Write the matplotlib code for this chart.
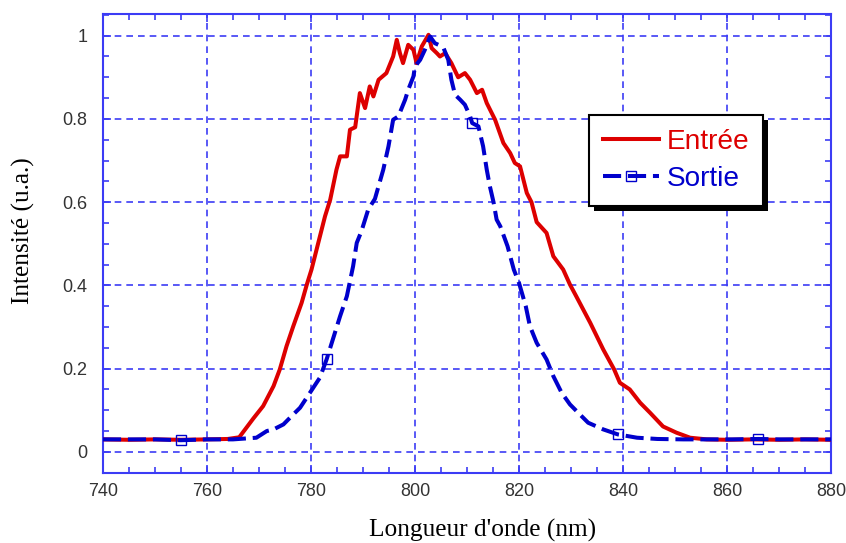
import matplotlib
matplotlib.use("Agg")
import matplotlib.pyplot as plt
from matplotlib.patches import Rectangle
from matplotlib.ticker import MultipleLocator

# Entrée spectrum (red)
entree_nm = [740, 745, 750, 755, 760, 764, 766.2, 768.9, 770.8, 772.8, 774.0, 775.3,
             776.6, 778.2, 779.2, 780.1, 781.4, 782.7, 783.7, 784.9, 785.6, 786.9,
             787.5, 788.5, 789.4, 790.4, 791.3, 792.0, 793.0, 794.5, 795.8, 796.5,
             797.1, 797.7, 798.7, 799.7, 800.3, 801.3, 802.6, 803.2, 804.2, 804.8,
             805.8, 807.0, 808.3, 809.6, 810.6, 811.9, 812.9, 813.8, 815.4, 817.0,
             818.3, 819.2, 820.2, 821.5, 822.4, 823.4, 825.3, 826.6, 828.5, 829.8,
             831.0, 833.7, 836.2, 838.3, 839.4, 841.3, 843.3, 845.2, 847.7, 850.3,
             852.9, 856.1, 860, 865, 870, 875, 880]
entree_val = [0.030, 0.029, 0.030, 0.029, 0.030, 0.031, 0.035, 0.080, 0.110, 0.158,
              0.198, 0.254, 0.302, 0.358, 0.402, 0.438, 0.502, 0.566, 0.606, 0.678,
              0.710, 0.710, 0.774, 0.780, 0.862, 0.826, 0.878, 0.854, 0.894, 0.910,
              0.950, 0.990, 0.958, 0.934, 0.978, 0.966, 0.934, 0.974, 1.002, 0.970,
              0.958, 0.950, 0.958, 0.934, 0.900, 0.910, 0.894, 0.862, 0.870, 0.838,
              0.798, 0.742, 0.718, 0.694, 0.686, 0.622, 0.600, 0.552, 0.526, 0.470,
              0.438, 0.402, 0.374, 0.310, 0.246, 0.198, 0.166, 0.150, 0.118, 0.094,
              0.061, 0.046, 0.034, 0.030, 0.029, 0.030, 0.029, 0.030, 0.029]

# Sortie spectrum (blue)
sortie_nm = [740, 745, 750, 755, 760, 765, 769.5, 771.5, 772.8, 774.7, 776.6, 777.9,
             779.8, 781.7, 783.0, 784.0, 785.6, 786.9, 788.1, 788.8, 789.7, 791.0,
             792.3, 793.9, 794.9, 795.8, 796.8, 798.1, 798.7, 799.7, 800.0, 801.0,
             801.9, 802.9, 803.8, 804.5, 805.5, 806.4, 807.0, 807.7, 808.7, 809.6,
             810.6, 811.0, 812.2, 813.1, 813.8, 814.4, 815.1, 815.7, 816.4, 817.8,
             819.0, 820.0, 821.3, 822.1, 823.4, 825.3, 826.6, 828.2, 829.8, 831.7,
             833.3, 836.2, 839.0, 842.7, 846.6, 851.6, 856, 861, 866, 870, 875, 880]
sortie_val = [0.030, 0.030, 0.030, 0.028, 0.030, 0.030, 0.034, 0.050, 0.054, 0.066,
              0.090, 0.106, 0.142, 0.178, 0.222, 0.262, 0.326, 0.374, 0.446, 0.502,
              0.530, 0.582, 0.608, 0.678, 0.734, 0.798, 0.806, 0.846, 0.870, 0.902,
              0.926, 0.942, 0.966, 0.998, 0.982, 0.978, 0.970, 0.942, 0.894, 0.858,
              0.846, 0.834, 0.806, 0.790, 0.782, 0.734, 0.678, 0.638, 0.600, 0.558,
              0.542, 0.494, 0.438, 0.406, 0.350, 0.302, 0.262, 0.222, 0.182, 0.142,
              0.114, 0.090, 0.070, 0.054, 0.042, 0.034, 0.031, 0.030, 0.030, 0.030,
              0.031, 0.030, 0.030, 0.030]
sortie_marker_nm = [755, 783.0, 811.0, 839.0, 866]

x_ticks = [740, 760, 780, 800, 820, 840, 860, 880]
y_ticks = [0, 0.2, 0.4, 0.6, 0.8, 1]
y_labels = ["0", "0.2", "0.4", "0.6", "0.8", "1"]

RED = "#dd0000"
BLUE = "#0000cc"
AXIS_BLUE = "#3c3cf5"

fig = plt.figure(figsize=(8.46, 5.43), dpi=100)
ax = fig.add_axes([0.1217, 0.1295, 0.8606, 0.8447])

ax.plot(entree_nm, entree_val, color=RED, lw=2.9, label="Entrée", zorder=3)
marks = [sortie_nm.index(v) for v in sortie_marker_nm]
ax.plot(sortie_nm, sortie_val, color=BLUE, lw=2.9, dashes=(4.5, 1.7),
        dash_capstyle="butt", marker="s", markevery=marks, markersize=7,
        markerfacecolor="none", markeredgecolor=BLUE, markeredgewidth=1.0,
        label="Sortie", zorder=4)

ax.set_xlim(740, 880)
ax.set_ylim(-0.05, 1.052)
ax.set_xticks(x_ticks)
ax.set_xticklabels([str(v) for v in x_ticks])
ax.set_yticks(y_ticks)
ax.set_yticklabels(y_labels)
ax.xaxis.set_minor_locator(MultipleLocator(5))
ax.yaxis.set_minor_locator(MultipleLocator(0.05))

ax.grid(True, which="major", color=AXIS_BLUE, lw=1.2, linestyle=(0, (4, 3)))
ax.set_axisbelow(True)
for sp in ax.spines.values():
    sp.set_color(AXIS_BLUE)
    sp.set_linewidth(1.5)

ax.tick_params(which="both", direction="in", top=True, right=True,
               color=AXIS_BLUE, width=1.2, labelcolor="#333333")
ax.tick_params(which="major", length=6)
ax.tick_params(which="minor", length=4.5)
ax.tick_params(axis="x", which="major", pad=7.5)
ax.tick_params(axis="y", which="major", pad=11)
for lab in ax.get_xticklabels() + ax.get_yticklabels():
    lab.set_fontfamily("Liberation Sans")
    lab.set_fontsize(13)

ax.set_xlabel("Longueur d'onde (nm)", family="Liberation Serif", fontsize=18.3)
ax.set_ylabel("Intensité (u.a.)", family="Liberation Serif", fontsize=18.3)
ax.xaxis.set_label_coords(0.521, -0.101)
ax.yaxis.set_label_coords(-0.093, 0.527)

leg = ax.legend(loc="upper left", bbox_to_anchor=(0.668, 0.780), borderaxespad=0,
                prop={"family": "Liberation Sans", "size": 20.2}, fancybox=False,
                framealpha=1, edgecolor="black", handlelength=2.0,
                handletextpad=0.25, borderpad=0.5, labelspacing=0.4)
leg.get_frame().set_linewidth(1.5)
for txt, col in zip(leg.get_texts(), [RED, BLUE]):
    txt.set_color(col)

# solid black drop shadow behind the legend box
fig.canvas.draw()
bb = leg.get_frame().get_window_extent()
shadow = Rectangle((bb.x0 + 5, bb.y0 - 5), bb.width, bb.height, transform=None,
                   facecolor="black", edgecolor="none", zorder=4.9, clip_on=False)
ax.add_artist(shadow)

fig.savefig("out.png", dpi=100)
